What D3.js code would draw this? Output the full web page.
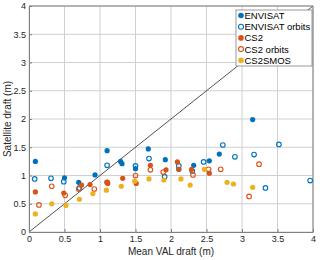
<!DOCTYPE html>
<html>
<head>
<meta charset="utf-8">
<script src="https://cdn.jsdelivr.net/npm/d3@7"></script>
<style>
  body { margin: 0; background: #fff; }
  svg text { font-family: "Liberation Sans", Arial, sans-serif; }
</style>
</head>
<body>
<div id="chart"></div>
<script>

// values: [VAL draft, satellite draft]
var envisat = [
    [0.09, 1.25], [0.50, 0.96], [0.70, 0.88], [0.93, 1.01], [1.10, 1.44],
    [1.29, 1.25], [1.31, 1.21], [1.50, 1.12], [1.68, 1.47], [1.92, 1.28],
    [2.11, 1.11], [2.32, 1.18], [2.54, 1.26], [2.68, 1.38], [3.15, 1.99]
];
var envisatOrbits = [
    [0.08, 0.94], [0.31, 0.95], [0.49, 0.89], [0.71, 0.78], [1.10, 1.18],
    [1.50, 1.17], [1.69, 1.30], [1.91, 0.98], [2.11, 1.17], [2.30, 1.08],
    [2.46, 1.24], [2.73, 1.54], [2.90, 1.33], [3.17, 1.37], [3.33, 0.78],
    [3.52, 1.55], [3.96, 0.91]
];
var cs2 = [
    [0.09, 0.71], [0.49, 0.69], [0.74, 0.83], [0.86, 0.84], [1.10, 0.88],
    [1.11, 0.86], [1.32, 0.95], [1.51, 0.86], [1.71, 1.18], [1.93, 1.10],
    [2.09, 1.24], [2.11, 1.11], [2.29, 1.11], [2.54, 1.04]
];
var cs2Orbits = [
    [0.14, 0.48], [0.32, 0.81], [0.51, 0.65], [0.70, 0.76], [0.92, 0.76],
    [1.10, 0.88], [1.50, 1.00], [1.71, 1.10], [1.89, 1.06], [2.31, 1.01],
    [2.53, 1.11], [2.70, 1.11], [3.10, 0.63], [3.24, 1.20]
];
var cs2smos = [
    [0.09, 0.32], [0.32, 0.50], [0.52, 0.47], [0.71, 0.58], [0.90, 0.68],
    [1.09, 0.74], [1.30, 0.81], [1.49, 0.90], [1.69, 0.94], [1.90, 0.92],
    [2.14, 0.94], [2.27, 0.83], [2.47, 1.11], [2.79, 0.88], [2.88, 0.85],
    [3.15, 0.79]
];

var seriesNames = ['ENVISAT', 'ENVISAT orbits', 'CS2', 'CS2 orbits', 'CS2SMOS'];
var xTickValues = [0, 0.5, 1, 1.5, 2, 2.5, 3, 3.5, 4];
var yTickValues = [0, 0.5, 1, 1.5, 2, 2.5, 3, 3.5, 4];
var xLabel = 'Mean VAL draft (m)';
var yLabel = 'Satellite draft (m)';

var width = 320;
var height = 260;
var margin = {left: 29, top: 6, right: 7, bottom: 28};

var series = [
    {name: seriesNames[0], data: envisat, color: '#0072BD', open: false},
    {name: seriesNames[1], data: envisatOrbits, color: '#0072BD', open: true},
    {name: seriesNames[2], data: cs2, color: '#D95319', open: false},
    {name: seriesNames[3], data: cs2Orbits, color: '#D95319', open: true},
    {name: seriesNames[4], data: cs2smos, color: '#EDB120', open: false}
];

var svg = d3.select('#chart')
    .append('svg')
        .attr('width', width)
        .attr('height', height);

var x = d3.scaleLinear()
    .domain([0, 4])
    .range([margin.left, width - margin.right]);

var y = d3.scaleLinear()
    .domain([0, 4])
    .range([height - margin.bottom, margin.top]);

/** grid */
svg.append('g')
    .selectAll('line')
    .data(xTickValues)
    .enter().append('line')
        .attr('x1', function(d) { return x(d); })
        .attr('x2', function(d) { return x(d); })
        .attr('y1', y(0))
        .attr('y2', y(4))
        .attr('stroke', '#d0d0d0')
        .attr('stroke-width', 1);

svg.append('g')
    .selectAll('line')
    .data(yTickValues)
    .enter().append('line')
        .attr('x1', x(0))
        .attr('x2', x(4))
        .attr('y1', function(d) { return y(d); })
        .attr('y2', function(d) { return y(d); })
        .attr('stroke', '#d0d0d0')
        .attr('stroke-width', 1);

// 1:1 line
svg.append('line')
    .attr('x1', x(0)).attr('y1', y(0))
    .attr('x2', x(4)).attr('y2', y(4))
    .attr('stroke', '#262626')
    .attr('stroke-width', 0.8);

/** axes */
var xAxis = d3.axisBottom(x)
    .tickValues(xTickValues)
    .tickFormat(function(d) { return d; })
    .tickSizeInner(-3)
    .tickSizeOuter(0)
    .tickPadding(4);

var yAxis = d3.axisLeft(y)
    .tickValues(yTickValues)
    .tickFormat(function(d) { return d; })
    .tickSizeInner(-3)
    .tickSizeOuter(0)
    .tickPadding(3);

var gx = svg.append('g')
    .attr('transform', 'translate(0,' + y(0) + ')')
    .call(xAxis);

var gy = svg.append('g')
    .attr('transform', 'translate(' + x(0) + ',0)')
    .call(yAxis);

[gx, gy].forEach(function(g) {
    g.selectAll('path, line').attr('stroke', '#808080');
    g.selectAll('text')
        .attr('fill', '#262626')
        .style('font-size', '9px');
});

// top and right frame
svg.append('path')
    .attr('d', 'M' + x(0) + ',' + y(4) + 'H' + x(4) + 'V' + y(0))
    .attr('fill', 'none')
    .attr('stroke', '#808080');

/** points */
series.forEach(function(s) {
    svg.append('g')
        .selectAll('circle')
        .data(s.data)
        .enter().append('circle')
            .attr('cx', function(d) { return x(d[0]); })
            .attr('cy', function(d) { return y(d[1]); })
            .attr('r', s.open ? 2.3 : 2.6)
            .attr('fill', s.open ? 'none' : s.color)
            .attr('stroke', s.open ? s.color : 'none')
            .attr('stroke-width', 1.1);
});

/** labels */
svg.append('text')
    .attr('x', (x(0) + x(4)) / 2)
    .attr('y', 255)
    .attr('text-anchor', 'middle')
    .attr('fill', '#262626')
    .style('font-size', '10px')
    .text(xLabel);

svg.append('text')
    .attr('transform', 'translate(11,' + ((y(0) + y(4)) / 2) + ') rotate(-90)')
    .attr('text-anchor', 'middle')
    .attr('fill', '#262626')
    .style('font-size', '10px')
    .text(yLabel);

/** legend */
var legend = svg.append('g')
    .attr('transform', 'translate(236,10)');

legend.append('rect')
    .attr('width', 76)
    .attr('height', 56)
    .attr('fill', '#fff')
    .attr('stroke', '#808080')
    .attr('stroke-width', 0.8);

var items = legend.selectAll('g.item')
    .data(series)
    .enter().append('g')
        .attr('class', 'item')
        .attr('transform', function(d, i) { return 'translate(0,' + (5.5 + i * 11.2) + ')'; });

items.append('circle')
    .attr('cx', 5)
    .attr('cy', 0)
    .attr('r', function(d) { return d.open ? 2.5 : 2.8; })
    .attr('fill', function(d) { return d.open ? 'none' : d.color; })
    .attr('stroke', function(d) { return d.open ? d.color : 'none'; })
    .attr('stroke-width', 1.1);

items.append('text')
    .attr('x', 8.5)
    .attr('y', 3.5)
    .attr('fill', '#000')
    .style('font-size', '9.5px')
    .text(function(d) { return d.name; });

</script>
</body>
</html>
